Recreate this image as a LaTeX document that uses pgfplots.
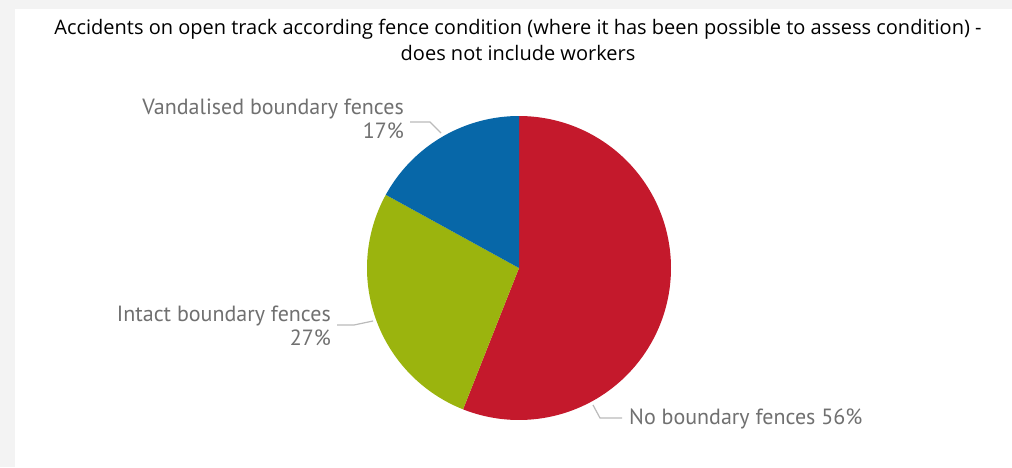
\documentclass[border=0pt]{standalone}
\usepackage{pgfplots}
\pgfplotsset{compat=1.18}
\usepackage{pgfplotstable}
\usepackage{fontspec}
\setmainfont{Open Sans}
\newfontfamily\labfont{PT Sans}
\definecolor{cRed}{HTML}{C4192C}
\definecolor{cGreen}{HTML}{9BB40E}
\definecolor{cBlue}{HTML}{0767A8}
\definecolor{labgray}{HTML}{707070}
\definecolor{leadgray}{HTML}{BBBBBB}
\definecolor{bggray}{HTML}{F3F3F3}
% data: share of accidents (percent)
\pgfplotstableread{
cat value
No 56
Intact 27
Vandalised 17
}\piedata
\begin{document}
\begin{tikzpicture}
\pgfplotstablegetelem{0}{value}\of\piedata \let\vA\pgfplotsretval
\pgfplotstablegetelem{1}{value}\of\piedata \let\vB\pgfplotsretval
\pgfplotstablegetelem{2}{value}\of\piedata \let\vC\pgfplotsretval
\pgfmathsetmacro{\aZero}{90}
\pgfmathsetmacro{\aOne}{90-3.6*\vA}
\pgfmathsetmacro{\aTwo}{\aOne-3.6*\vB}
\pgfmathsetmacro{\aThree}{\aTwo-3.6*\vC}
\begin{axis}[
  at={(0,0)}, anchor=origin,
  width=1012pt, height=467pt, scale only axis,
  xmin=0, xmax=1012, ymin=0, ymax=467,
  hide axis, clip=false,
]
\fill[bggray] (axis cs:0,0) rectangle (axis cs:1012,467);
\fill[white] (axis cs:15,0) rectangle (axis cs:1012,458);
% wedges
\addplot[fill=cRed, draw=none, domain=\aOne:\aZero, samples=120]
  ({519+152*cos(x)},{199+152*sin(x)}) -- (axis cs:519,199) -- cycle;
\addplot[fill=cGreen, draw=none, domain=\aTwo:\aOne, samples=80]
  ({519+152*cos(x)},{199+152*sin(x)}) -- (axis cs:519,199) -- cycle;
\addplot[fill=cBlue, draw=none, domain=\aThree:\aTwo, samples=60]
  ({519+152*cos(x)},{199+152*sin(x)}) -- (axis cs:519,199) -- cycle;
% leader lines
\addplot[leadgray, line width=1.2pt] coordinates {(410,345) (430,345) (441,334)};
\addplot[leadgray, line width=1.2pt] coordinates {(337,142) (354,142) (373,146)};
\addplot[leadgray, line width=1.2pt] coordinates {(593,62) (600,49) (622,49)};
% title
\node[font=\fontsize{20}{26}\selectfont, align=center, anchor=center, text=black]
  at (axis cs:518,427) {Accidents on open track according fence condition (where it has been possible to assess condition) -\\does not include workers};
% labels
\node[font=\labfont\fontsize{22}{24}\selectfont, text=labgray, align=right, anchor=east, inner sep=0pt]
  at (axis cs:404,348) {Vandalised boundary fences\\17\%};
\node[font=\labfont\fontsize{22}{24}\selectfont, text=labgray, align=right, anchor=east, inner sep=0pt]
  at (axis cs:331,141) {Intact boundary fences\\27\%};
\node[font=\labfont\fontsize{22}{24}\selectfont, text=labgray, anchor=west, inner sep=0pt]
  at (axis cs:629,48) {No boundary fences 56\%};
\end{axis}
\end{tikzpicture}
\end{document}
